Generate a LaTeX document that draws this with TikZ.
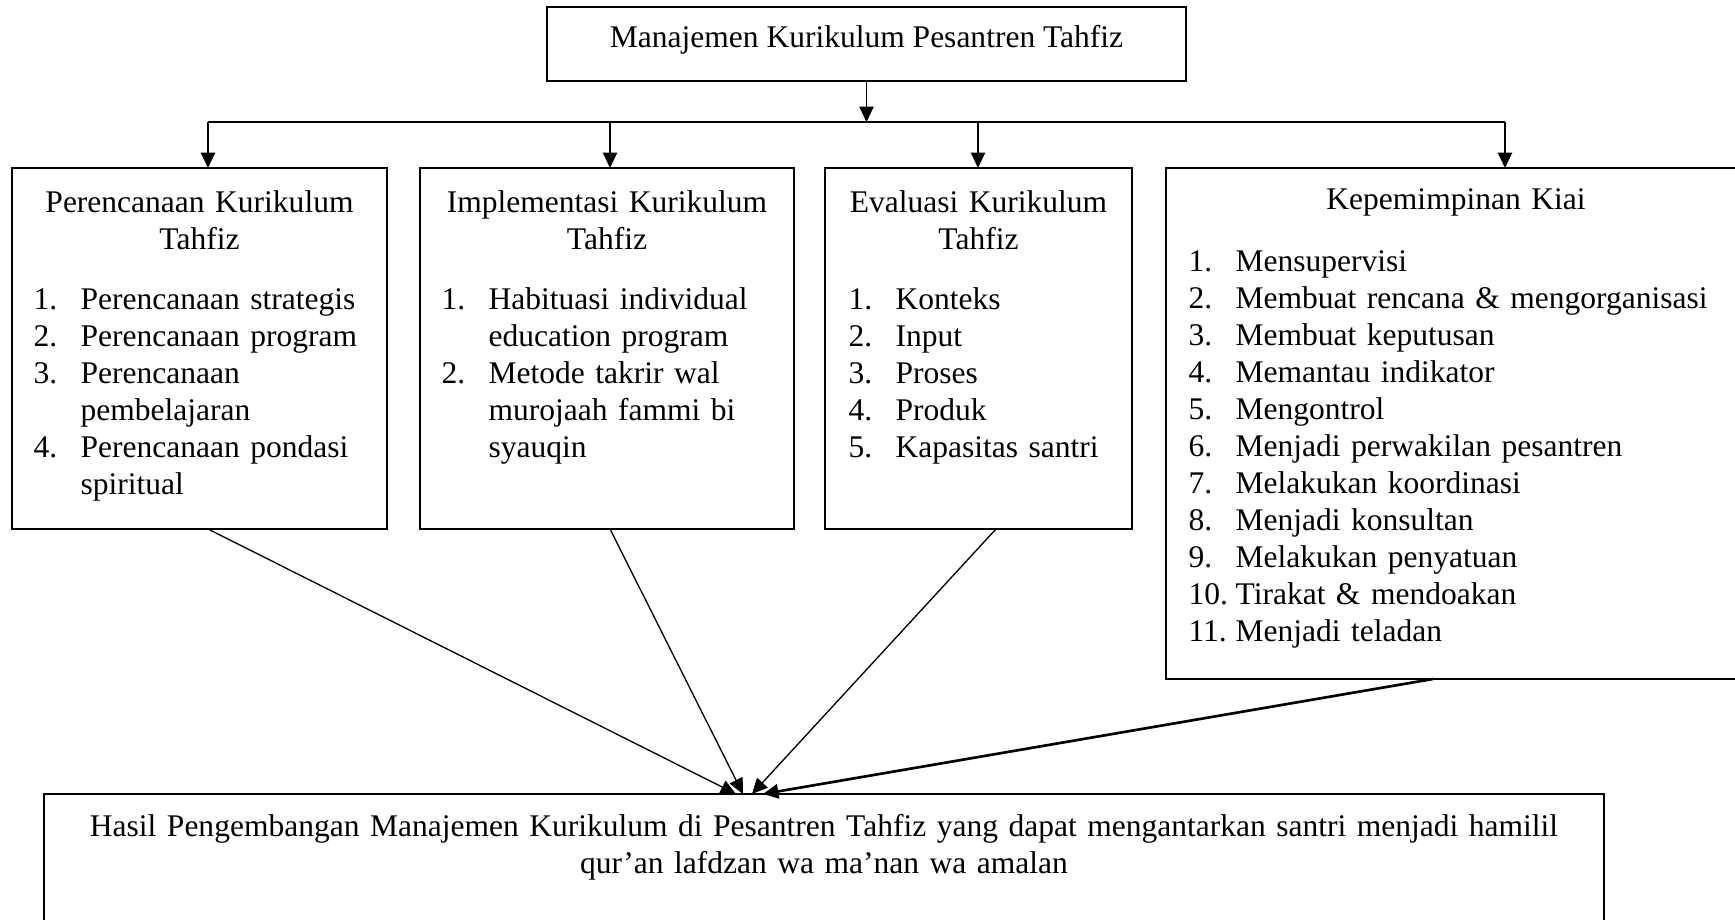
\documentclass[tikz,border=0pt]{standalone}
\usepackage{fontspec}
\setmainfont{Liberation Serif}
\usetikzlibrary{arrows.meta}
\newlength\numw
\setlength\numw{17.7pt}
\newcommand\nodefnt{\fontsize{11.85}{13.9}\selectfont\lineskip=0pt\relax\lineskiplimit=0pt\relax}
\newcommand\itm[2]{\par\noindent\makebox[\numw][l]{\strut#1}\parbox[t]{200pt}{\lineskip=0pt\relax\lineskiplimit=0pt\relax\raggedright\strut#2\strut}}
\tikzset{
  boxnode/.style={draw, line width=0.6pt, inner sep=0pt, rectangle},
  txt/.style={inner sep=0pt, font=\nodefnt},
  lst/.style={txt, anchor=north west, text width=240pt},
  hdr/.style={txt, anchor=north, text width=#1, align=center},
  conn/.style={line width=0.5pt, -{Triangle[length=5.8pt,width=5.4pt]}},
  plainln/.style={line width=0.5pt}
}
\begin{document}
\begin{tikzpicture}[x=0.376pt,y=-0.376pt]
\useasboundingbox (0,0) rectangle (1735,920);
\clip (0,0) rectangle (1735,920);
% boxes
\node[boxnode, minimum width=639*0.376pt, minimum height=74*0.376pt] (top) at (866.5,44) {};
\node[boxnode, minimum width=375*0.376pt, minimum height=361*0.376pt] (b1) at (199.5,348.5) {};
\node[boxnode, minimum width=374*0.376pt, minimum height=361*0.376pt] (b2) at (607,348.5) {};
\node[boxnode, minimum width=307*0.376pt, minimum height=361*0.376pt] (b3) at (978.5,348.5) {};
\node[boxnode, minimum width=580*0.376pt, minimum height=511*0.376pt] (b4) at (1456,423.5) {};
\node[boxnode, minimum width=1560*0.376pt, minimum height=156*0.376pt] (bot) at (824,872) {};
% texts
\node[txt, anchor=base] (ttop) at (866.5,48) {Manajemen Kurikulum Pesantren Tahfiz};
\node[hdr=135pt] (h1) at (199.5,186) {\strut Perencanaan Kurikulum\\Tahfiz};
\node[hdr=135pt] (h2) at (607,186) {\strut Implementasi Kurikulum\\Tahfiz};
\node[hdr=112pt] (h3) at (978.5,186) {\strut Evaluasi Kurikulum\\Tahfiz};
\node[hdr=200pt] (h4) at (1456,183) {\strut Kepemimpinan Kiai};
\node[lst] (l1) at (33,272) {\itm{1.}{Perencanaan strategis}\itm{2.}{Perencanaan program}\itm{3.}{Perencanaan\\pembelajaran}\itm{4.}{Perencanaan pondasi\\spiritual}};
\node[lst] (l2) at (441,272) {\itm{1.}{Habituasi individual\\education program}\itm{2.}{Metode takrir wal\\murojaah fammi bi\\syauqin}};
\node[lst] (l3) at (848,272) {\itm{1.}{Konteks}\itm{2.}{Input}\itm{3.}{Proses}\itm{4.}{Produk}\itm{5.}{Kapasitas santri}};
\node[lst] (l4) at (1188,234) {\itm{1.}{Mensupervisi}\itm{2.}{Membuat rencana \& mengorganisasi}\itm{3.}{Membuat keputusan}\itm{4.}{Memantau indikator}\itm{5.}{Mengontrol}\itm{6.}{Menjadi perwakilan pesantren}\itm{7.}{Melakukan koordinasi}\itm{8.}{Menjadi konsultan}\itm{9.}{Melakukan penyatuan}\itm{10.}{Tirakat \& mendoakan}\itm{11.}{Menjadi teladan}};
\node[hdr=570pt] (tbot) at (824,810) {\strut Hasil Pengembangan Manajemen Kurikulum di Pesantren Tahfiz yang dapat mengantarkan santri menjadi hamilil\\qur’an lafdzan wa ma’nan wa amalan};
% connector coordinates
\coordinate (bus) at (0,122);
\coordinate (a1) at (208,168);
\coordinate (a2) at (610,168);
\coordinate (a3) at (978,168);
\coordinate (a4) at (1505,168);
\coordinate (s1) at (208,529);
\coordinate (s2) at (610,529);
\coordinate (s3) at (996,529);
\coordinate (s4) at (1433,679);
\coordinate (e1) at (736,794);
\coordinate (e2) at (743,794);
\coordinate (e3) at (752,794);
\coordinate (e4) at (763,794);
% connectors
\draw[conn] (top.south) -- (top.south |- bus);
\draw[plainln] (a1 |- bus) -- (a4 |- bus);
\draw[conn] (a1 |- bus) -- (a1);
\draw[conn] (a2 |- bus) -- (a2);
\draw[conn] (a3 |- bus) -- (a3);
\draw[conn] (a4 |- bus) -- (a4);
\draw[conn] (s1) -- (e1);
\draw[conn] (s2) -- (e2);
\draw[conn] (s3) -- (e3);
\draw[conn, line width=1pt] (s4) -- (e4);
\end{tikzpicture}
\end{document}
